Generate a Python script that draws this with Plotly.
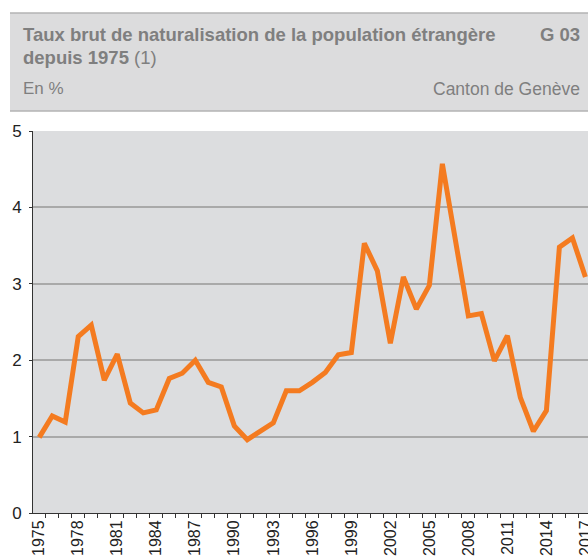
import plotly.graph_objects as go

years = list(range(1975, 2018))
rates = [0.99, 1.27, 1.19, 2.31, 2.46, 1.74, 2.08, 1.44, 1.31, 1.35,
         1.76, 1.83, 2.00, 1.71, 1.65, 1.14, 0.96, 1.07, 1.18, 1.60,
         1.60, 1.71, 1.84, 2.07, 2.10, 3.53, 3.17, 2.22, 3.09, 2.67,
         2.98, 4.57, 3.62, 2.58, 2.61, 1.99, 2.32, 1.51, 1.07, 1.34,
         3.48, 3.60, 3.09]
tick_years = years[::3]
tick_labels = [str(y) for y in tick_years]
y_ticks = [0, 1, 2, 3, 4, 5]

title_1 = "Taux brut de naturalisation de la population étrangère"
title_2 = "depuis 1975"
note = "(1)"
code = "G 03"
unit = "En %"
region = "Canton de Genève"

W, H = 588, 558
L, R, T, B = 33, 0, 131, 45
PW, PH = W - L - R, H - T - B

def px(x):
    return (x - L) / PW

def py(y):
    return (H - B - y) / PH

FONT = "Liberation Sans, Arial, sans-serif"
GREY_TXT = "#7f7f7f"

fig = go.Figure()
fig.add_trace(go.Scatter(
    x=years, y=rates, mode="lines",
    line=dict(color="#f47b20", width=5),
    hoverinfo="skip", showlegend=False,
))

shapes = [
    dict(type="rect", xref="paper", yref="paper",
         x0=px(10), x1=px(600), y0=py(111), y1=py(13),
         fillcolor="#dcdcdd", line=dict(width=0), layer="below"),
    dict(type="line", xref="paper", yref="paper",
         x0=px(10), x1=px(600), y0=py(13), y1=py(13),
         line=dict(color="#b3b3b3", width=1.5)),
    dict(type="line", xref="paper", yref="paper",
         x0=px(10), x1=px(600), y0=py(111), y1=py(111),
         line=dict(color="#b3b3b3", width=1.5)),
]

annotations = [
    dict(text="<b>" + title_1 + "</b>", x=px(21), y=py(34), xanchor="left", yanchor="middle", size=18.5),
    dict(text="<b>" + code + "</b>", x=px(582), y=py(34), xanchor="right", yanchor="middle", size=18.5),
    dict(text="<b>" + title_2 + "</b> " + note, x=px(21), y=py(58), xanchor="left", yanchor="middle", size=18.5),
    dict(text=unit, x=px(21), y=py(89), xanchor="left", yanchor="middle", size=17),
    dict(text=region, x=px(582), y=py(89), xanchor="right", yanchor="middle", size=17.5),
]
for a in annotations:
    s = a.pop("size")
    a.update(xref="paper", yref="paper", showarrow=False,
             font=dict(family=FONT, size=s, color=GREY_TXT))

fig.update_layout(
    width=W, height=H,
    margin=dict(l=L, r=R, t=T, b=B, pad=0, autoexpand=False),
    paper_bgcolor="white",
    plot_bgcolor="#dcdddf",
    font=dict(family=FONT, color="#222222"),
    shapes=shapes,
    annotations=annotations,
    xaxis=dict(
        range=[1974.52, 2017.2],
        tickvals=tick_years, ticktext=tick_labels,
        tickangle=-90, ticks="", showgrid=False, zeroline=False,
        showline=True, linecolor="#333333", linewidth=1,
        tickfont=dict(size=16, color="#222222"),
        ticklabeloverflow="allow", automargin=False,
        minor=dict(ticks="outside", tick0=1974.5, dtick=1, ticklen=4,
                   tickcolor="#333333", showgrid=False),
    ),
    yaxis=dict(
        range=[0, 5], tickvals=y_ticks,
        ticks="outside", ticklen=3, tickcolor="#333333",
        ticklabelstandoff=4, automargin=False,
        showgrid=True, gridcolor="#a9a9a9", gridwidth=1.5,
        zeroline=False, showline=True, linecolor="#333333", linewidth=1,
        tickfont=dict(size=17, color="#222222"),
    ),
)

fig.write_html(
    "out.html",
    config={"displayModeBar": False},
    post_script="document.body.style.margin='0';document.body.style.overflow='hidden';",
)
